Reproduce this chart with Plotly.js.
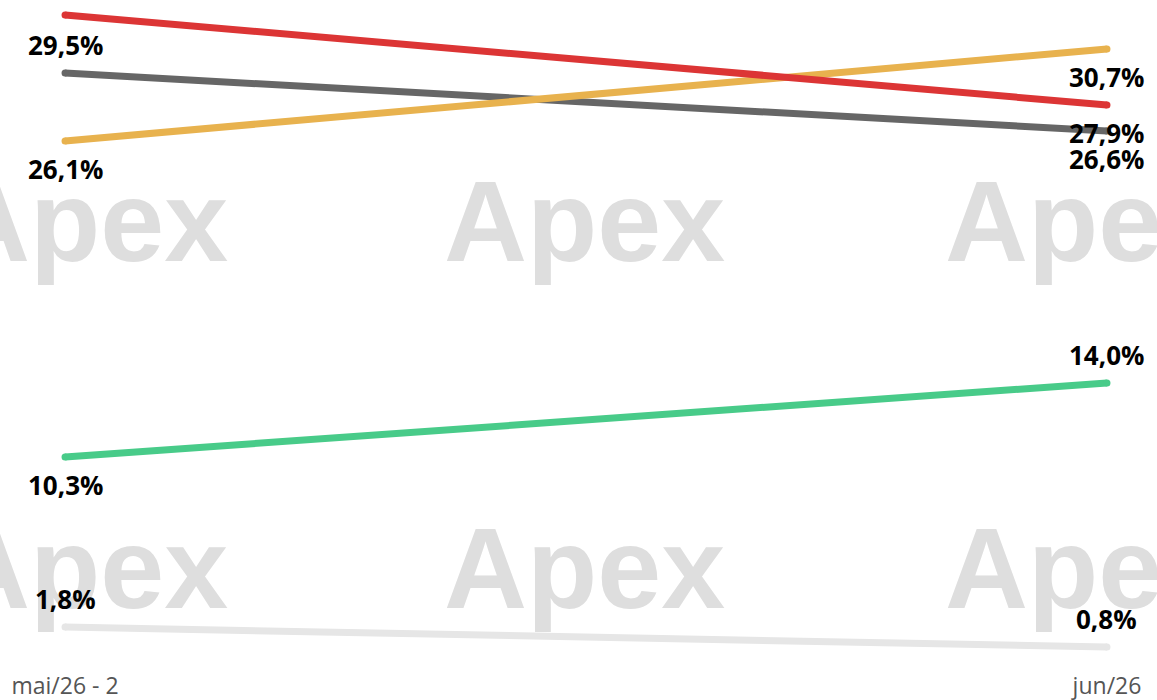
<!DOCTYPE html>
<html>
<head>
<meta charset="utf-8">
<script src="https://cdn.plot.ly/plotly-3.0.1.min.js"></script>
<style>html,body{margin:0;padding:0;background:#fff;}#chart{width:1157px;height:700px;}</style>
</head>
<body>
<div id="chart"></div>
<script>
const categories = ["mai/26 - 2", "jun/26"];
const seriesRed = [32.4, 27.9];
const seriesGray = [29.5, 26.6];
const seriesOrange = [26.1, 30.7];
const seriesGreen = [10.3, 14.0];
const seriesLight = [1.8, 0.8];

const series = [
  {vals: seriesLight, color: "#e6e6e6", side: [1, 1]},
  {vals: seriesGreen, color: "#48cb89", side: [-1, 1]},
  {vals: seriesGray, color: "#666666", side: [1, -1]},
  {vals: seriesOrange, color: "#e8b24e", side: [-1, -1]},
  {vals: seriesRed, color: "#dc3535", side: [1, -1]}
];

const data = series.map(s => ({
  x: categories, y: s.vals, type: "scatter", mode: "lines+markers",
  line: {color: s.color, width: 7},
  marker: {color: s.color, size: 7},
  cliponaxis: false, hoverinfo: "skip", showlegend: false
}));

const annotations = [];
const wmX = [0.076, 0.5056, 0.9378];
const wmY = [0.667, 0.1432];
wmY.forEach(y => wmX.forEach(x => annotations.push({
  text: "Apex", xref: "paper", yref: "paper", x: x, y: y, xanchor: "center", yanchor: "middle",
  showarrow: false, font: {family: "Liberation Sans", size: 115, color: "#dedede", weight: 700}
})));

series.forEach(s => s.vals.forEach((v, i) => annotations.push({
  text: v.toFixed(1).replace(".", ",") + "%",
  xref: "x", yref: "y", x: categories[i], y: v, yshift: 28 * s.side[i],
  xanchor: "center", yanchor: "middle", showarrow: false,
  font: {family: "Open Sans", size: 26, color: "#000", weight: 700}
})));

const layout = {
  width: 1157, height: 700,
  margin: {l: 0, r: 0, t: 0, b: 37},
  paper_bgcolor: "#fff", plot_bgcolor: "#fff",
  showlegend: false,
  xaxis: {type: "category", range: [-0.0624, 1.048], showgrid: false, zeroline: false, showline: false,
          ticks: "", ticklabelstandoff: 7, tickfont: {family: "Open Sans", size: 23, color: "#555"}},
  yaxis: {range: [0, 33.15], visible: false, showgrid: false, zeroline: false},
  annotations: annotations
};

Plotly.newPlot("chart", data, layout, {displayModeBar: false, staticPlot: true});
</script>
</body>
</html>
